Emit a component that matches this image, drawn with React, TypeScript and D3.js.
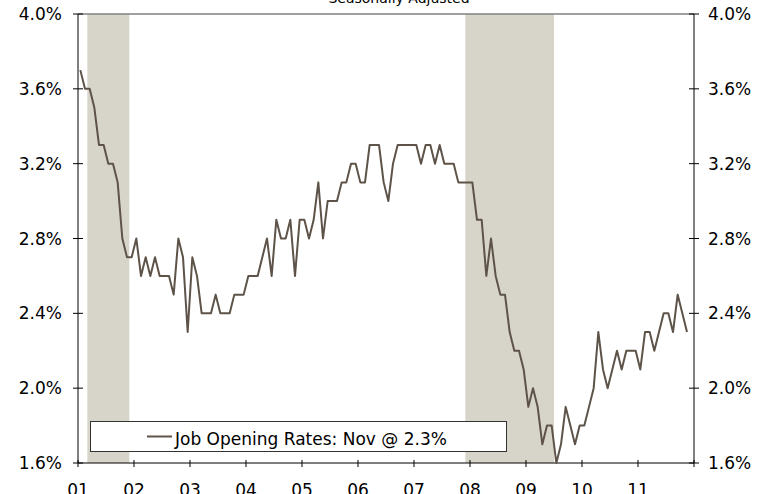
import React from "react";
import * as d3 from "d3";

// Monthly job openings rate (%), Jan 2001 .. Nov 2011
const startYear = 2001;
const values: number[] = [
  // 2001
  3.7, 3.6, 3.6, 3.5, 3.3, 3.3, 3.2, 3.2, 3.1, 2.8, 2.7, 2.7,
  // 2002
  2.8, 2.6, 2.7, 2.6, 2.7, 2.6, 2.6, 2.6, 2.5, 2.8, 2.7, 2.3,
  // 2003
  2.7, 2.6, 2.4, 2.4, 2.4, 2.5, 2.4, 2.4, 2.4, 2.5, 2.5, 2.5,
  // 2004
  2.6, 2.6, 2.6, 2.7, 2.8, 2.6, 2.9, 2.8, 2.8, 2.9, 2.6, 2.9,
  // 2005
  2.9, 2.8, 2.9, 3.1, 2.8, 3.0, 3.0, 3.0, 3.1, 3.1, 3.2, 3.2,
  // 2006
  3.1, 3.1, 3.3, 3.3, 3.3, 3.1, 3.0, 3.2, 3.3, 3.3, 3.3, 3.3,
  // 2007
  3.3, 3.2, 3.3, 3.3, 3.2, 3.3, 3.2, 3.2, 3.2, 3.1, 3.1, 3.1,
  // 2008
  3.1, 2.9, 2.9, 2.6, 2.8, 2.6, 2.5, 2.5, 2.3, 2.2, 2.2, 2.1,
  // 2009
  1.9, 2.0, 1.9, 1.7, 1.8, 1.8, 1.6, 1.7, 1.9, 1.8, 1.7, 1.8,
  // 2010
  1.8, 1.9, 2.0, 2.3, 2.1, 2.0, 2.1, 2.2, 2.1, 2.2, 2.2, 2.2,
  // 2011
  2.1, 2.3, 2.3, 2.2, 2.3, 2.4, 2.4, 2.3, 2.5, 2.4, 2.3,
];

// Recessions: [year, month(1-12)] start and end (inclusive month)
const recessionStarts: [number, number][] = [[2001, 3], [2007, 12]];
const recessionEnds: [number, number][] = [[2001, 11], [2009, 6]];

const yTicks = [1.6, 2.0, 2.4, 2.8, 3.2, 3.6, 4.0];
const xTickYears = [2001, 2002, 2003, 2004, 2005, 2006, 2007, 2008, 2009, 2010, 2011, 2012];
const xTickLabels = ["01", "02", "03", "04", "05", "06", "07", "08", "09", "10", "11", ""];

const title = "Seasonally Adjusted";
const legendLabel = "Job Opening Rates: Nov @ 2.3%";

const W = 767;
const H = 494;
const L = 78;
const R = 694;
const T = 14;
const B = 463;
const FONT = "'DejaVu Sans', Verdana, sans-serif";
const LINE = "#5d5349";
const SHADE = "#d7d4c9";
const FS = 17;

export default function App() {
  const x = d3.scaleLinear().domain([2001, 2012]).range([L, R]);
  const y = d3.scaleLinear().domain([1.6, 4.0]).range([B, T]);

  const pts: [number, number][] = values.map((v, i) => [startYear + (i + 0.5) / 12, v]);
  const line = d3
    .line<[number, number]>()
    .x((d) => x(d[0]))
    .y((d) => y(d[1]));

  const fmt = d3.format(".1f");

  return (
    <svg
      width={W}
      height={H}
      style={{ position: "absolute", left: 0, top: 0, background: "#fff" }}
      fontFamily={FONT}
    >
      <rect x={0} y={0} width={W} height={H} fill="#fff" />
      {/* recession shading */}
      {recessionStarts.map((s, i) => {
        const e = recessionEnds[i];
        const x0 = x(s[0] + (s[1] - 1) / 12);
        const x1 = x(e[0] + e[1] / 12);
        return <rect key={i} x={x0} y={T} width={x1 - x0} height={B - T} fill={SHADE} />;
      })}

      {/* top border */}
      <line x1={L} x2={R} y1={T} y2={T} stroke="#808080" strokeWidth={1.5} />

      {/* axes */}
      <line x1={L} x2={L} y1={T} y2={B} stroke="#000" strokeWidth={1} />
      <line x1={R} x2={R} y1={T} y2={B} stroke="#000" strokeWidth={1} />
      <line x1={L} x2={R} y1={B} y2={B} stroke="#000" strokeWidth={1} />

      {/* y ticks */}
      {yTicks.map((t) => (
        <g key={t}>
          <line x1={L - 5} x2={L + 5} y1={y(t)} y2={y(t)} stroke="#000" />
          <line x1={R - 5} x2={R + 5} y1={y(t)} y2={y(t)} stroke="#000" />
          <text x={62} y={y(t)} dy="0.36em" textAnchor="end" fontSize={FS} fill="#000">
            {fmt(t)}%
          </text>
          <text x={708} y={y(t)} dy="0.36em" textAnchor="start" fontSize={FS} fill="#000">
            {fmt(t)}%
          </text>
        </g>
      ))}

      {/* x ticks */}
      {xTickYears.map((yr, i) => (
        <g key={yr}>
          <line x1={x(yr)} x2={x(yr)} y1={B - 3} y2={B + 4} stroke="#000" />
          <text x={x(yr)} y={495.5} textAnchor="middle" fontSize={FS} fill="#000">
            {xTickLabels[i]}
          </text>
        </g>
      ))}

      {/* data line */}
      <path d={line(pts) || ""} fill="none" stroke={LINE} strokeWidth={2} strokeLinejoin="round" />

      {/* title (clipped at top) */}
      <text x={399} y={3} textAnchor="middle" fontSize={14} fill="#000">
        {title}
      </text>

      {/* legend */}
      <rect x={90.5} y={421.5} width={416} height={30} fill="#fff" stroke="#333" strokeWidth={1} />
      <line x1={147} x2={172} y1={436.5} y2={436.5} stroke={LINE} strokeWidth={2} />
      <text x={175} y={444.5} fontSize={FS} fill="#000">
        {legendLabel}
      </text>
    </svg>
  );
}
